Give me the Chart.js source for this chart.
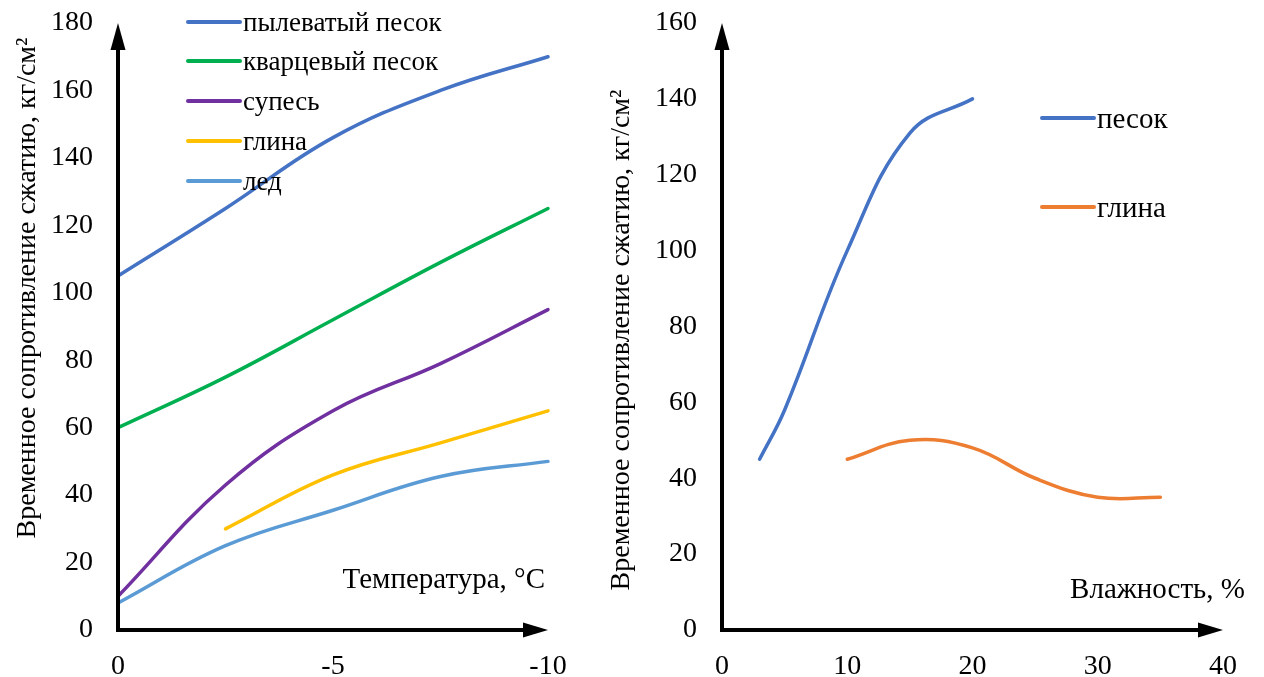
<!DOCTYPE html>
<html>
<head>
<meta charset="utf-8">
<script src="https://cdn.jsdelivr.net/npm/chart.js@4.4.1/dist/chart.umd.min.js"></script>
<style>
  html, body { margin: 0; padding: 0; background: #fff; }
  #wrap { position: relative; width: 1264px; height: 677px; overflow: hidden; }
  canvas { position: absolute; top: 0; }
  #left { left: 0; }
  #right { left: 600px; }
</style>
</head>
<body>
<div id="wrap">
  <canvas id="left" width="600" height="677"></canvas>
  <canvas id="right" width="664" height="677"></canvas>
</div>
<script>
// --- data: left chart (temperature) ---
const tempX = [0, -2.5, -5, -7.5, -10];
const tempTicks = [0, -5, -10];
const dustySand = [105, 125, 146, 160, 170];
const quartzSand = [60, 75, 92, 109, 125];
const sandyLoam = [10, 43, 65, 79, 95];
const clayTemp = [null, 30, 46, 55.5, 65];
const ice = [8, 25, 35.5, 45.5, 50];
const leftLabels = ['пылеватый песок', 'кварцевый песок', 'супесь', 'глина', 'лед'];

// --- data: right chart (humidity) ---
const sandHum = [3, 5, 10, 15, 20];
const sandVals = [45, 58, 100, 131, 140];
const clayHum = [10, 15, 20, 25, 30, 35];
const clayVals = [45, 50, 48, 40, 35, 35];
const rightLabels = ['песок', 'глина'];

const yTitle = 'Временное сопротивление сжатию, кг/см²';
const FONT = "'Liberation Serif', 'Times New Roman', serif";

function pts(xs, ys) {
    return xs.map((x, i) => ({x: x, y: ys[i]}));
}

function line(label, data, color) {
    return {
        label: label,
        data: data,
        borderColor: color,
        backgroundColor: color,
        borderWidth: 3.5,
        pointRadius: 0,
        tension: 0.4,
        borderCapStyle: 'round',
        fill: false,
        clip: false
    };
}

// axes with arrows, axis titles and legend drawn by hand
const decorPlugin = {
    id: 'decor',
    afterDatasetsDraw(chart, args, o) {
        const ctx = chart.ctx;
        const a = chart.chartArea;
        ctx.save();
        ctx.strokeStyle = '#000';
        ctx.fillStyle = '#000';
        ctx.lineWidth = 4;
        ctx.lineCap = 'butt';
        ctx.beginPath();
        ctx.moveTo(a.left, a.top + 20);
        ctx.lineTo(a.left, a.bottom);
        ctx.lineTo(a.right - 20, a.bottom);
        ctx.stroke();
        // arrow heads
        ctx.beginPath();
        ctx.moveTo(a.right, a.bottom);
        ctx.lineTo(a.right - 25, a.bottom - 7.5);
        ctx.lineTo(a.right - 25, a.bottom + 7.5);
        ctx.closePath();
        ctx.fill();
        ctx.beginPath();
        ctx.moveTo(a.left, a.top);
        ctx.lineTo(a.left - 7.5, a.top + 27);
        ctx.lineTo(a.left + 7.5, a.top + 27);
        ctx.closePath();
        ctx.fill();

        // y title
        ctx.font = '28px ' + FONT;
        ctx.textAlign = 'center';
        ctx.textBaseline = 'middle';
        ctx.translate(o.yTitleX, o.yTitleY);
        ctx.rotate(-Math.PI / 2);
        ctx.fillText(yTitle, 0, 0);
        ctx.setTransform(1, 0, 0, 1, 0, 0);

        // x title
        ctx.font = '29px ' + FONT;
        ctx.textAlign = 'right';
        ctx.fillText(o.xTitle, o.xTitleX, o.xTitleY);

        // legend
        ctx.font = o.legendSize + 'px ' + FONT;
        ctx.textAlign = 'left';
        ctx.lineCap = 'round';
        ctx.lineWidth = 4;
        chart.data.datasets.forEach((ds, i) => {
            const y = o.legendY[i];
            ctx.strokeStyle = ds.borderColor;
            ctx.beginPath();
            ctx.moveTo(o.legendX, y);
            ctx.lineTo(o.legendX + 52, y);
            ctx.stroke();
            ctx.fillText(ds.label, o.legendX + 55, y + 2);
        });
        ctx.restore();
    }
};

function scales(xOpts, yMax, yWidth) {
    const tickFont = {family: FONT, size: 28};
    return {
        x: Object.assign({
            type: 'linear',
            grid: {display: false, drawTicks: false},
            border: {display: false},
            ticks: {font: tickFont, color: '#000', padding: 20, stepSize: 5},
            afterFit: s => { s.height = 47; s.paddingLeft = 0; s.paddingRight = 0; }
        }, xOpts),
        y: {
            min: 0, max: yMax,
            grid: {display: false, drawTicks: false},
            border: {display: false},
            ticks: {font: tickFont, color: '#000', padding: 25, stepSize: 20},
            afterFit: s => { s.width = yWidth; s.paddingTop = 0; s.paddingBottom = 0; }
        }
    };
}

new Chart(document.getElementById('left'), {
    type: 'line',
    data: {
        datasets: [
            line(leftLabels[0], pts(tempX, dustySand), '#4472C4'),
            line(leftLabels[1], pts(tempX, quartzSand), '#00B050'),
            line(leftLabels[2], pts(tempX, sandyLoam), '#7030A0'),
            line(leftLabels[3], pts(tempX, clayTemp), '#FFC000'),
            line(leftLabels[4], pts(tempX, ice), '#5B9BD5')
        ]
    },
    options: {
        responsive: false,
        animation: false,
        layout: {padding: {top: 23, right: 52, left: 0, bottom: 0}},
        plugins: {
            legend: {display: false},
            tooltip: {enabled: false},
            decor: {
                yTitleX: 28, yTitleY: 288,
                xTitle: 'Температура, °C', xTitleX: 545, xTitleY: 580,
                legendX: 188, legendY: [22, 61, 101, 141, 181], legendSize: 27
            }
        },
        scales: scales({
            min: -10, max: 0, reverse: true,
            afterBuildTicks: s => { s.ticks = tempTicks.map(v => ({value: v})); }
        }, 180, 118)
    },
    plugins: [decorPlugin]
});

new Chart(document.getElementById('right'), {
    type: 'line',
    data: {
        datasets: [
            line(rightLabels[0], pts(sandHum, sandVals), '#4472C4'),
            line(rightLabels[1], pts(clayHum, clayVals), '#ED7D31')
        ]
    },
    options: {
        responsive: false,
        animation: false,
        layout: {padding: {top: 23, right: 41, left: 0, bottom: 0}},
        plugins: {
            legend: {display: false},
            tooltip: {enabled: false},
            decor: {
                yTitleX: 22, yTitleY: 340,
                xTitle: 'Влажность, %', xTitleX: 645, xTitleY: 590,
                legendX: 442, legendY: [118, 207], legendSize: 29
            }
        },
        scales: scales({min: 0, max: 40, ticks: {font: {family: FONT, size: 28}, color: '#000', padding: 20, stepSize: 10}}, 160, 122)
    },
    plugins: [decorPlugin]
});
</script>
</body>
</html>
